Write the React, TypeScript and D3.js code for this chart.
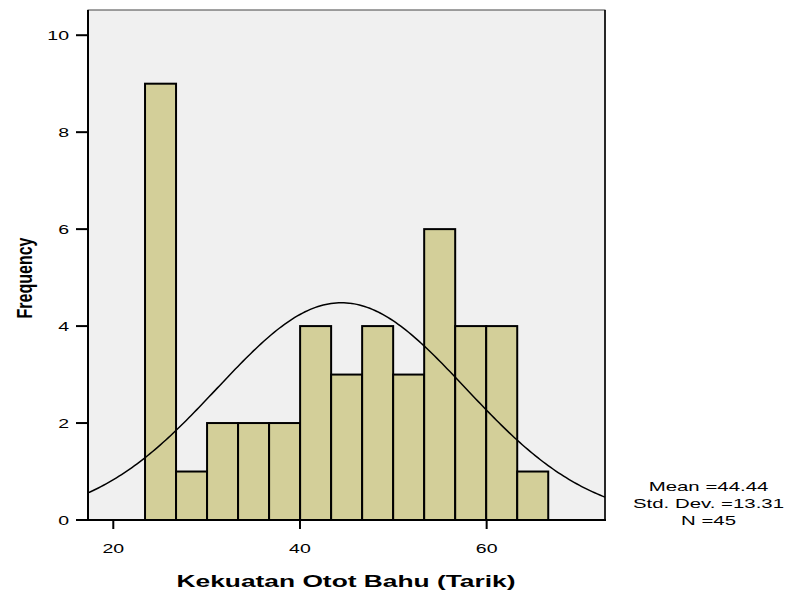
import React, { useMemo } from 'react';
import * as d3 from 'd3';

const WIDTH = 790;
const HEIGHT = 596;
const PLOT = { left: 88, right: 605, top: 10, bottom: 520 };

// histogram bins (lower edges) and counts
const BIN_START = 23.4;
const BIN_WIDTH = 3.323;
const COUNTS = [9, 1, 2, 2, 2, 4, 3, 4, 3, 6, 4, 4, 1];
const X_TICKS = [20, 40, 60];
const Y_TICKS = [0, 2, 4, 6, 8, 10];
const MEAN = 44.44;
const SD = 13.31;
const N = 45;
const STAT_LINES = ['Mean =44.44', 'Std. Dev. =13.31', 'N =45'];

const BG = '#f0f0f0';
const BAR_FILL = '#d3cf99';
const FONT = '"Liberation Sans", Arial, sans-serif';
// the source picture is stretched sideways, so the text is too
const SX = 1.5;

export default function App() {
  const x = d3.scaleLinear().domain([17.29, 72.68]).range([PLOT.left, PLOT.right]);
  const y = d3.scaleLinear().domain([0, 10.52]).range([PLOT.bottom, PLOT.top]);

  const curve = useMemo(() => {
    const peak = (N * BIN_WIDTH) / (SD * Math.sqrt(2 * Math.PI));
    const pts = d3.range(0, 201).map((i) => {
      const v = 17.29 + ((72.68 - 17.29) * i) / 200;
      return [v, peak * Math.exp(-0.5 * ((v - MEAN) / SD) ** 2)] as [number, number];
    });
    return d3
      .line<[number, number]>()
      .x((d) => x(d[0]))
      .y((d) => y(d[1]))(pts) ?? '';
  }, []);

  return (
    <svg
      width={WIDTH}
      height={HEIGHT}
      style={{ position: 'absolute', left: 0, top: 0, background: '#fff' }}
      fontFamily={FONT}
    >
      <rect
        x={PLOT.left}
        y={PLOT.top}
        width={PLOT.right - PLOT.left}
        height={PLOT.bottom - PLOT.top}
        fill={BG}
        stroke="#444"
        strokeWidth={1}
      />
      {COUNTS.map((c, i) => {
        const x0 = x(BIN_START + i * BIN_WIDTH);
        const x1 = x(BIN_START + (i + 1) * BIN_WIDTH);
        return (
          <rect
            key={i}
            x={x0}
            y={y(c)}
            width={x1 - x0}
            height={y(0) - y(c)}
            fill={BAR_FILL}
            stroke="#000"
            strokeWidth={2}
          />
        );
      })}
      <path d={curve} fill="none" stroke="#000" strokeWidth={1.5} />
      {/* right border */}
      <line x1={PLOT.right} x2={PLOT.right} y1={PLOT.top} y2={PLOT.bottom} stroke="#000" strokeWidth={1.5} />
      {/* axes */}
      <line x1={PLOT.left} x2={PLOT.left} y1={PLOT.top} y2={PLOT.bottom} stroke="#000" strokeWidth={2} />
      <line x1={76} x2={PLOT.right + 1} y1={PLOT.bottom} y2={PLOT.bottom} stroke="#000" strokeWidth={2} />
      {Y_TICKS.map((t) => (
        <g key={`y${t}`}>
          <line x1={76} x2={PLOT.left} y1={y(t)} y2={y(t)} stroke="#000" strokeWidth={2} />
          <text
            transform={`translate(69, ${y(t) + 4.5}) scale(${SX}, 1)`}
            textAnchor="end"
            fontSize={13}
          >
            {t}
          </text>
        </g>
      ))}
      {X_TICKS.map((t) => (
        <g key={`x${t}`}>
          <line x1={x(t)} x2={x(t)} y1={PLOT.bottom} y2={PLOT.bottom + 9} stroke="#000" strokeWidth={2} />
          <text
            transform={`translate(${x(t)}, 552.5) scale(${SX}, 1)`}
            textAnchor="middle"
            fontSize={13}
          >
            {t}
          </text>
        </g>
      ))}
      <text
        transform={`translate(346, 587) scale(1.55, 1)`}
        textAnchor="middle"
        fontSize={17}
        fontWeight="bold"
      >
        Kekuatan Otot Bahu (Tarik)
      </text>
      <text
        transform="translate(32, 278) scale(1.4, 1) rotate(-90)"
        textAnchor="middle"
        fontSize={16}
        fontWeight="bold"
      >
        Frequency
      </text>
      {STAT_LINES.map((s, i) => (
        <text
          key={s}
          transform={`translate(708.5, ${491 + i * 17}) scale(1.57, 1)`}
          textAnchor="middle"
          fontSize={13}
        >
          {s}
        </text>
      ))}
    </svg>
  );
}
